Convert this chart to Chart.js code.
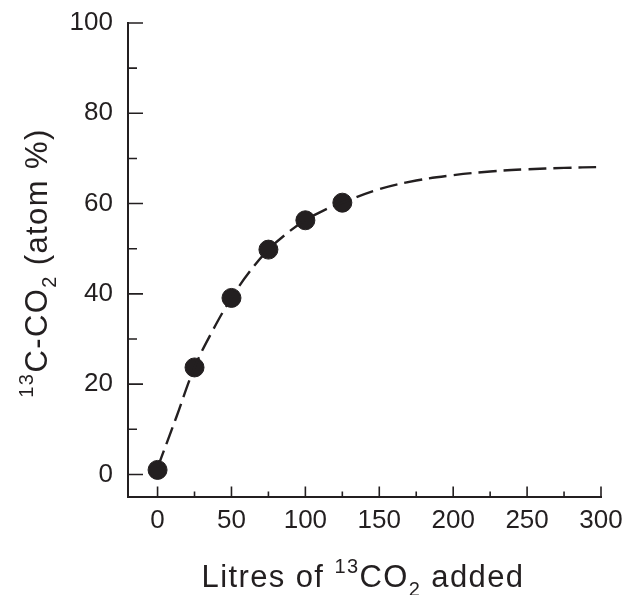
<!DOCTYPE html>
<html>
<head>
<meta charset="utf-8">
<script src="https://cdn.jsdelivr.net/npm/chart.js@4"></script>
<style>
  body { margin: 0; background: #fff; }
  #wrap { width: 635px; height: 595px; }
</style>
</head>
<body>
<div id="wrap"><canvas id="grafico"></canvas></div>
<script>
// dados
const litros = [0, 25, 50, 75, 100, 125];
const atomPct = [1, 23.7, 39.1, 49.8, 56.3, 60.2];

// curva ajustada (tracejada)
const curvaX = [0, 12.5, 25, 37.5, 50, 62.5, 75, 87.5, 100, 112.5, 125, 150, 175, 200, 225, 250, 275, 300];
const curvaY = [1.5, 12.5, 23.7, 32, 39.1, 45, 49.8, 53.4, 56.3, 58.5, 60.2, 63.2, 65.1, 66.3, 67.1, 67.6, 67.9, 68.1];

const xTicks = [0, 25, 50, 75, 100, 125, 150, 175, 200, 225, 250, 275, 300];
const yTicks = [0, 10, 20, 30, 40, 50, 60, 70, 80, 90, 100];

// títulos com sobrescrito / subscrito
const tituloX = [{ t: 'Litres of ' }, { t: '13', sup: true }, { t: 'CO' }, { t: '2', sub: true }, { t: ' added' }];
const tituloY = [{ t: '13', sup: true }, { t: 'C-CO' }, { t: '2', sub: true }, { t: ' (atom %)' }];

const cor = '#231f20';
const fonte = '"Liberation Sans", Arial, Helvetica, sans-serif';
const tamTitulo = 31;

function desenhaTexto(ctx, partes, cx, base, tam) {
    const pequeno = Math.round(tam * 0.66);
    ctx.letterSpacing = '1.4px';
    let largura = 0;
    partes.forEach(function (p) {
        ctx.font = ((p.sup || p.sub) ? pequeno : tam) + 'px ' + fonte;
        p.w = ctx.measureText(p.t).width;
        largura += p.w;
    });
    let x = cx - largura / 2;
    partes.forEach(function (p) {
        ctx.font = ((p.sup || p.sub) ? pequeno : tam) + 'px ' + fonte;
        let dy = 0;
        if (p.sup) dy = -tam * 0.45;
        if (p.sub) dy = tam * 0.3;
        ctx.fillText(p.t, x, base + dy);
        x += p.w;
    });
}

// marcas dos eixos para dentro (maior / menor) e títulos
const marcasInternas = {
    id: 'marcasInternas',
    afterDraw(chart) {
        const ctx = chart.ctx;
        const sx = chart.scales.x;
        const sy = chart.scales.y;
        ctx.save();
        ctx.strokeStyle = cor;
        ctx.lineWidth = 1.6;
        ctx.beginPath();
        xTicks.forEach(function (v) {
            const px = sx.getPixelForValue(v);
            const len = v % 50 === 0 ? 10.5 : 5.5;
            ctx.moveTo(px, sx.top);
            ctx.lineTo(px, sx.top - len);
        });
        yTicks.forEach(function (v) {
            const py = sy.getPixelForValue(v);
            const len = v % 20 === 0 ? 15 : 9;
            ctx.moveTo(sy.right, py);
            ctx.lineTo(sy.right + len, py);
        });
        ctx.stroke();

        ctx.fillStyle = cor;
        ctx.textBaseline = 'alphabetic';
        ctx.textAlign = 'left';
        desenhaTexto(ctx, tituloX, 363, 587, tamTitulo);

        ctx.translate(47, 263);
        ctx.rotate(-Math.PI / 2);
        desenhaTexto(ctx, tituloY, 0, 0, tamTitulo);
        ctx.restore();
    }
};

const grafico = document.getElementById('grafico');

new Chart(grafico, {
    type: 'scatter',
    data: {
        datasets: [{
            label: 'curva',
            data: curvaX.map(function (x, i) { return { x: x, y: curvaY[i] }; }),
            showLine: true,
            borderColor: cor,
            borderWidth: 2.4,
            borderDash: [18, 7],
            tension: 0.4,
            pointRadius: 0,
            fill: false
        },
        {
            label: '13C-CO2',
            data: litros.map(function (x, i) { return { x: x, y: atomPct[i] }; }),
            backgroundColor: cor,
            borderColor: cor,
            pointRadius: 9.5,
            pointHoverRadius: 9.5,
            showLine: false
        }]
    },
    options: {
        responsive: true,
        maintainAspectRatio: false,
        animation: false,
        layout: { padding: { left: 0, right: 34, top: 0, bottom: 0 } },
        plugins: {
            legend: { display: false },
            tooltip: { enabled: false }
        },
        scales: {
            x: {
                type: 'linear',
                min: -20,
                max: 300,
                afterBuildTicks: function (scale) {
                    scale.ticks = xTicks.map(function (v) { return { value: v }; });
                },
                afterFit: function (scale) { scale.height = 98; },
                grid: { display: true, drawOnChartArea: false, drawTicks: false, color: 'rgba(0,0,0,0)' },
                border: { display: true, color: cor, width: 2 },
                ticks: {
                    autoSkip: false,
                    maxRotation: 0,
                    padding: 8,
                    color: cor,
                    font: { family: fonte, size: 26 },
                    callback: function (v) { return v % 50 === 0 ? String(v) : ''; }
                },
                title: { display: false }
            },
            y: {
                type: 'linear',
                min: -5,
                max: 100,
                afterBuildTicks: function (scale) {
                    scale.ticks = yTicks.map(function (v) { return { value: v }; });
                },
                afterFit: function (scale) {
                    scale.width = 128;
                    scale.paddingTop = 23;
                },
                grid: { display: true, drawOnChartArea: false, drawTicks: false, color: 'rgba(0,0,0,0)' },
                border: { display: true, color: cor, width: 2 },
                ticks: {
                    autoSkip: false,
                    padding: 15,
                    color: cor,
                    font: { family: fonte, size: 26 },
                    callback: function (v) { return v % 20 === 0 ? String(v) : ''; }
                },
                title: { display: false }
            }
        }
    },
    plugins: [marcasInternas]
});
</script>
</body>
</html>
